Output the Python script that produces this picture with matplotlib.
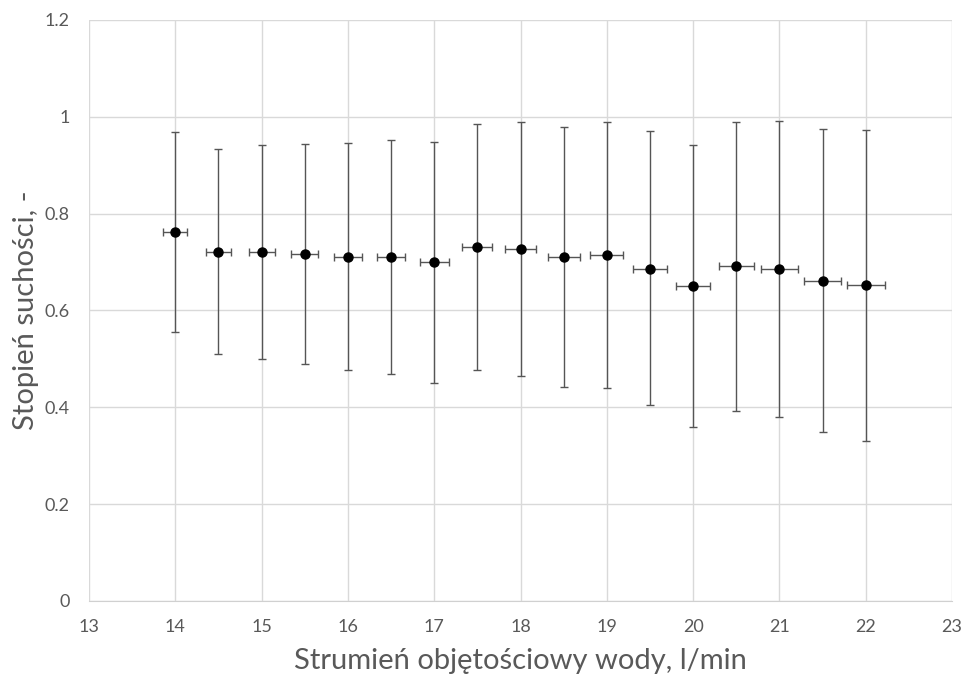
import matplotlib.pyplot as plt

# water flow rate, l/min
flow = [14, 14.5, 15, 15.5, 16, 16.5, 17, 17.5, 18, 18.5, 19, 19.5, 20, 20.5, 21, 21.5, 22]
# dryness fraction (mean) and error bar ends
dryness = [0.762, 0.721, 0.721, 0.716, 0.711, 0.711, 0.700, 0.732, 0.727, 0.711,
           0.714, 0.685, 0.650, 0.691, 0.685, 0.660, 0.653]
dry_high = [0.968, 0.933, 0.941, 0.944, 0.946, 0.953, 0.948, 0.986, 0.989, 0.979,
            0.989, 0.971, 0.941, 0.989, 0.992, 0.975, 0.973]
dry_low = [0.556, 0.510, 0.500, 0.490, 0.477, 0.469, 0.451, 0.477, 0.464, 0.441,
           0.439, 0.405, 0.359, 0.393, 0.381, 0.348, 0.331]
flow_err = [0.14, 0.145, 0.15, 0.155, 0.16, 0.165, 0.17, 0.175, 0.18, 0.185,
            0.19, 0.195, 0.20, 0.205, 0.21, 0.215, 0.22]

plt.rcParams['font.family'] = ['Lato', 'DejaVu Sans']

fig = plt.figure(figsize=(9.66, 6.77), dpi=100)
ax = fig.add_axes([0.0921, 0.1123, 0.8935, 0.8582])

yerr = [[m - lo for m, lo in zip(dryness, dry_low)],
        [hi - m for m, hi in zip(dryness, dry_high)]]
ax.errorbar(flow, dryness, yerr=yerr, xerr=flow_err, fmt='o', color='black',
            markersize=6.5, ecolor='#555555', elinewidth=1.0, capsize=3,
            capthick=1.0, zorder=3)

ax.set_xlim(13, 23)
ax.set_ylim(0, 1.2)
ax.set_xticks(range(13, 24))
ax.set_yticks([0, 0.2, 0.4, 0.6, 0.8, 1.0, 1.2])
ax.set_yticklabels(['0', '0.2', '0.4', '0.6', '0.8', '1', '1.2'])
ax.grid(True, color='#d9d9d9', linewidth=1)
ax.set_axisbelow(True)
for s in ['top', 'right', 'left']:
    ax.spines[s].set_visible(False)
ax.spines['bottom'].set_color('#d0d0d0')
ax.tick_params(length=0, colors='#595959', labelsize=13)
ax.tick_params(axis='y', pad=14)
ax.tick_params(axis='x', pad=13)

ax.set_xlabel('Strumień objętościowy wody, l/min', fontsize=21, color='#595959', labelpad=9)
ax.set_ylabel('Stopień suchości, -', fontsize=21, color='#595959', labelpad=4)

fig.savefig('out.png', dpi=100)
